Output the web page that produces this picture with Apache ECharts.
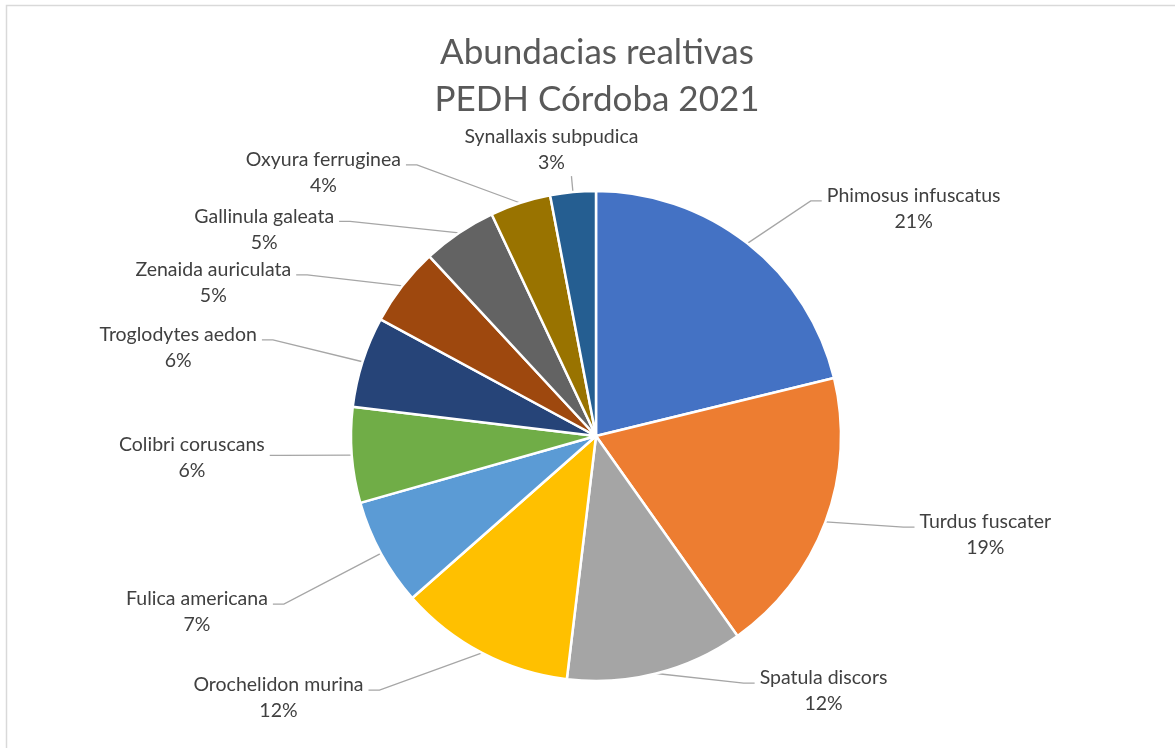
<!DOCTYPE html>
<html>
<head>
<meta charset="utf-8">
<script src="https://cdn.jsdelivr.net/npm/echarts@6/dist/echarts.min.js"></script>
<style>
html,body{margin:0;padding:0;background:#fff;}
#chart{width:1175px;height:748px;}
</style>
</head>
<body>
<div id="chart"></div>
<script>
// ---- data ----
const titleLines = ['Abundacias realtivas', 'PEDH Córdoba 2021'];
const species = ['Phimosus infuscatus', 'Turdus fuscater', 'Spatula discors', 'Orochelidon murina',
  'Fulica americana', 'Colibri coruscans', 'Troglodytes aedon', 'Zenaida auriculata',
  'Gallinula galeata', 'Oxyura ferruginea', 'Synallaxis subpudica'];
const abundance = [21.2, 19.0, 11.7, 11.6, 7.1, 6.3, 6.0, 5.2, 4.9, 4.0, 3.0];

// ---- styles / layout (not data) ----
const colors = ['#4472C4', '#ED7D31', '#A5A5A5', '#FFC000', '#5B9BD5', '#70AD47',
  '#264478', '#9E480E', '#636363', '#997300', '#255E91'];
const leadLen = [54, 15, 10, 42, 106, 1, 72, 18, 14, 40, 16];
const leadLen2 = [41, 75, 96, 94, 15, 81, 32, 92, 112, 102, 0];
const nameLift = [5, 5, 5, 5, 5, 11, 5, 5, 5, 5, 0];
const labelAbove = [false, false, false, false, false, false, false, false, false, false, true];
const elbow = 11; // length of the short horizontal leg next to each label

const FONT = 'Lato';
const FS = 19.5;
const LH = 26;

const seriesData = species.map((name, i) => {
  const padR = labelAbove[i] ? 30 : 0;
  return {
    name: name,
    value: abundance[i],
    itemStyle: { color: colors[i] },
    labelLine: { length: leadLen[i], length2: leadLen2[i] },
    label: {
      rich: {
        s: { fontSize: 2, lineHeight: Math.max(1, LH - 2 * nameLift[i]) },
        n: { fontSize: FS, lineHeight: LH, color: '#404040', fontFamily: FONT, align: 'center', padding: [0, padR, 0, 0] },
        p: { fontSize: FS, lineHeight: LH, color: '#404040', fontFamily: FONT, align: 'center', padding: [0, padR, 0, 0] }
      }
    }
  };
});

const chart = echarts.init(document.getElementById('chart'), null, { renderer: 'canvas' });
chart.setOption({
  backgroundColor: '#ffffff',
  animation: false,
  title: {
    text: titleLines.join('\n'),
    left: 592,
    top: 24,
    textAlign: 'center',
    textStyle: { fontFamily: FONT, fontSize: 35, fontWeight: 'normal', color: '#595959', lineHeight: 47 }
  },
  graphic: [{
    type: 'rect',
    silent: true,
    shape: { x: 6.5, y: 5.5, width: 1200, height: 800 },
    style: { fill: 'none', stroke: '#D9D9D9', lineWidth: 1.5 }
  }],
  series: [{
    type: 'pie',
    center: [596, 436],
    radius: 245,
    startAngle: 90,
    clockwise: true,
    avoidLabelOverlap: false,
    data: seriesData,
    itemStyle: { borderColor: '#ffffff', borderWidth: 2.5 },
    emphasis: { disabled: true },
    label: {
      show: true,
      position: 'outside',
      distanceToLabelLine: 5,
      fontFamily: FONT,
      fontSize: FS,
      color: '#404040',
      formatter: (p) => '{s| }\n{n|' + p.name + '}\n{p|' + Math.round(p.percent) + '%}'
    },
    labelLine: {
      show: true,
      smooth: false,
      lineStyle: { color: '#A6A6A6', width: 1.3 }
    },
    labelLayout: (params) => {
      if (labelAbove[params.dataIndex]) {
        return { align: 'center', verticalAlign: 'bottom' };
      }
      const pts = params.labelLinePoints;
      if (!pts || pts.length < 3) return {};
      const p1 = pts[0], p3 = pts[2];
      const dir = p3[0] >= p1[0] ? 1 : -1;
      return { labelLinePoints: [p1, [p3[0] - dir * elbow, p3[1]], p3] };
    }
  }]
});
</script>
</body>
</html>
